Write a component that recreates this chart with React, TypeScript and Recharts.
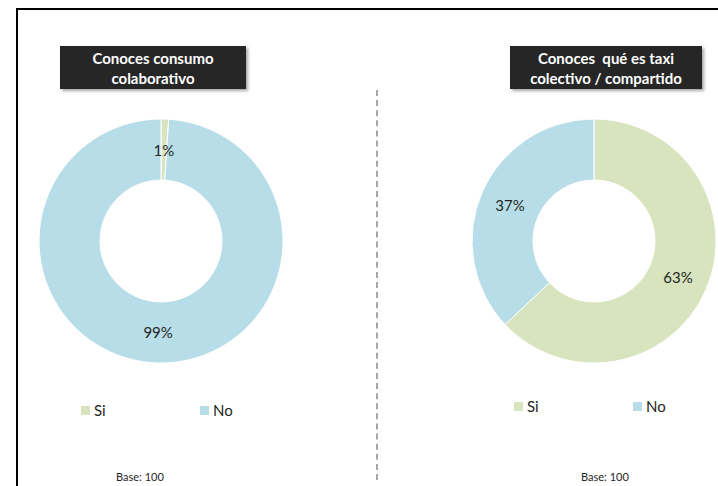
import { Cell, Legend, Pie, PieChart } from "recharts";

const categories = ["Si", "No"];
const consumoValues = [1, 99];
const taxiValues = [63, 37];
const sliceColors = ["#D7E4BD", "#B7DEE8"];

const leftTitle = ["Conoces consumo", "colaborativo"];
const rightTitle = ["Conoces  qué es taxi", "colectivo / compartido"];
const baseLabel = "Base: 100";

const FONT = "Lato, 'Open Sans', sans-serif";
const RADIAN = Math.PI / 180;

function toRows(values: number[]) {
  return categories.map((name, i) => ({ name, value: values[i] }));
}

function renderLabel(p: any) {
  const r = (p.innerRadius + p.outerRadius) / 2;
  const x = p.cx + r * Math.cos(-p.midAngle * RADIAN);
  const y = p.cy + r * Math.sin(-p.midAngle * RADIAN);
  return (
    <text x={x} y={y} textAnchor="middle" dominantBaseline="central" fontSize={15} fill="#262626" fontFamily={FONT}>
      {p.value}%
    </text>
  );
}

function legendContent(gap: number) {
  return (props: any) => {
    const items = [...(props.payload || [])].sort(
      (a: any, b: any) => categories.indexOf(a.value) - categories.indexOf(b.value)
    );
    return (
      <div style={{ display: "flex", fontFamily: FONT, fontSize: 15, color: "#262626" }}>
        {items.map((e: any, i: number) => (
          <div key={i} style={{ display: "flex", alignItems: "center", width: gap }}>
            <span style={{ width: 9, height: 9, background: e.color, marginRight: 4 }} />
            <span>{e.value}</span>
          </div>
        ))}
      </div>
    );
  };
}

function Donut({ values, cx, legendLeft, legendTop }: { values: number[]; cx: number; legendLeft: number; legendTop: number }) {
  return (
    <PieChart width={359} height={486} margin={{ top: 0, right: 0, bottom: 0, left: 0 }}>
      <Pie
        data={toRows(values)}
        dataKey="value"
        nameKey="name"
        cx={cx}
        cy={241}
        innerRadius={61}
        outerRadius={122}
        startAngle={90}
        endAngle={-270}
        stroke="#ffffff"
        strokeWidth={1}
        label={renderLabel}
        labelLine={false}
        isAnimationActive={false}
      >
        {values.map((_, i) => (
          <Cell key={i} fill={sliceColors[i]} />
        ))}
      </Pie>
      <Legend
        content={legendContent(119)}
        wrapperStyle={{ position: "absolute", left: legendLeft, top: legendTop, width: 260 }}
      />
    </PieChart>
  );
}

function TitleBox({ lines, left, width }: { lines: string[]; left: number; width: number }) {
  return (
    <div
      style={{
        position: "absolute",
        left,
        top: 46,
        width,
        height: 43,
        background: "#262626",
        color: "#fff",
        fontFamily: FONT,
        fontWeight: 700,
        fontSize: 15,
        lineHeight: "20px",
        textAlign: "center",
        display: "flex",
        flexDirection: "column",
        justifyContent: "center",
        boxShadow: "2px 2px 3px rgba(0,0,0,0.35)",
        whiteSpace: "pre",
      }}
    >
      {lines.map((l, i) => (
        <div key={i}>{l}</div>
      ))}
    </div>
  );
}

export default function App() {
  return (
    <div style={{ position: "fixed", left: 0, top: 0, width: 718, height: 486, background: "#fff", overflow: "hidden" }}>
      <div style={{ position: "absolute", left: 16, top: 8, width: 702, height: 2, background: "#000" }} />
      <div style={{ position: "absolute", left: 16, top: 8, width: 2, height: 478, background: "#000" }} />
      <div style={{ position: "absolute", left: 376, top: 90, height: 390, borderLeft: "2px dashed #a6a6a6" }} />

      <div style={{ position: "absolute", left: 0, top: 0 }}>
        <Donut values={consumoValues} cx={161} legendLeft={81} legendTop={401} />
      </div>
      <div style={{ position: "absolute", left: 359, top: 0 }}>
        <Donut values={taxiValues} cx={235} legendLeft={155} legendTop={397} />
      </div>

      <TitleBox lines={leftTitle} left={60} width={186} />
      <TitleBox lines={rightTitle} left={510} width={192} />

      <div style={{ position: "absolute", left: 116, top: 470, lineHeight: "14px", fontFamily: FONT, fontSize: 11, color: "#262626" }}>{baseLabel}</div>
      <div style={{ position: "absolute", left: 581, top: 470, lineHeight: "14px", fontFamily: FONT, fontSize: 11, color: "#262626" }}>{baseLabel}</div>
    </div>
  );
}
